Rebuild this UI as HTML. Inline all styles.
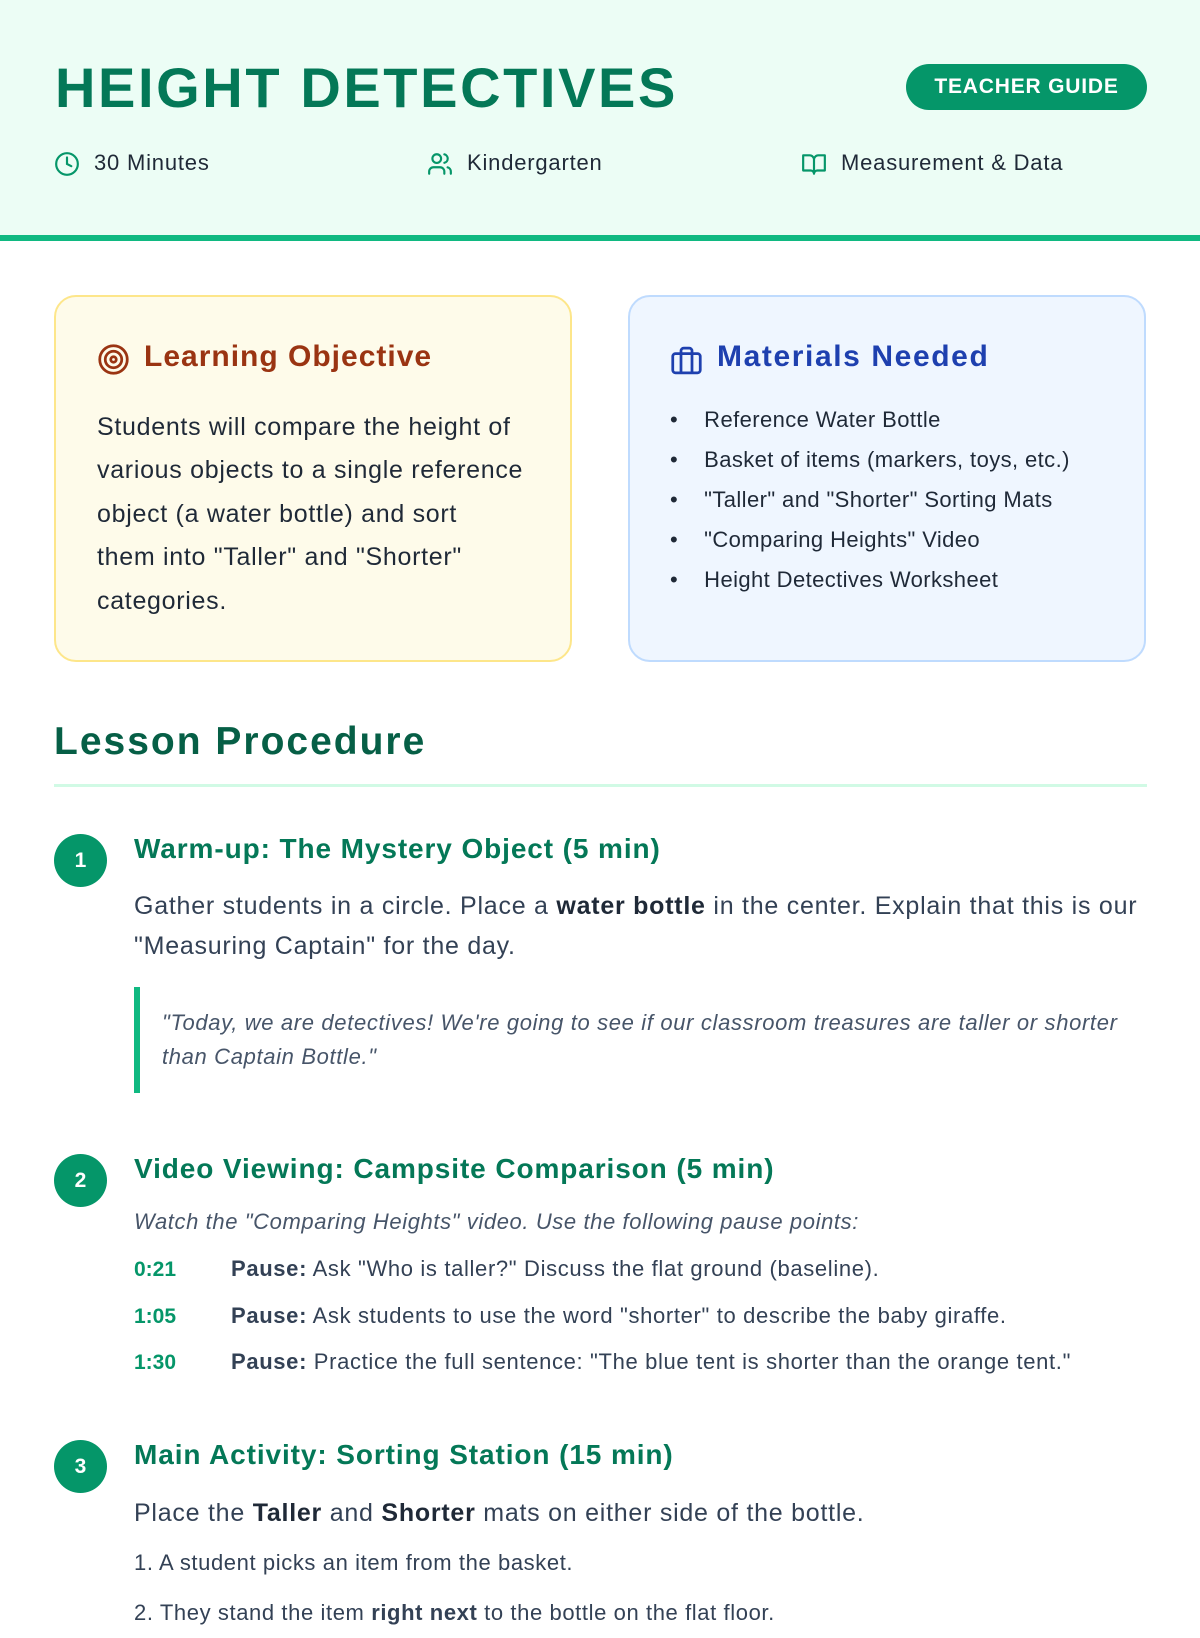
<!DOCTYPE html>
<html><head><meta charset="utf-8"><style>
*{margin:0;padding:0;box-sizing:border-box}
body{width:1200px;height:1600px;overflow:hidden;background:#fff;font-family:"Liberation Sans",sans-serif;color:#334155;position:relative}
.a{position:absolute;white-space:nowrap}
.hdr{position:absolute;left:0;top:0;width:1200px;height:241px;background:#ecfdf5;border-bottom:6px solid #10b981}
.card{position:absolute;top:295px;height:367px;width:518px;border-radius:22px;border:2px solid}
.num{position:absolute;left:54px;width:53px;height:53px;border-radius:50%;background:#059669;color:#fff;font-weight:bold;font-size:21px;text-align:center;line-height:53px}
.st{position:absolute;left:134px;font-size:28px;font-weight:bold;letter-spacing:0.9px;color:#047857;white-space:nowrap}
.tx{position:absolute;left:134px;font-size:25px;letter-spacing:0.75px;line-height:40px;color:#334155}
.tm{position:absolute;left:134px;font-size:21px;font-weight:bold;color:#059669}
.pr{position:absolute;left:231px;font-size:22px;letter-spacing:0.65px;white-space:nowrap}
</style></head><body>
<div class="hdr"></div>
<div class="a" style="left:55px;top:55px;font-size:56px;font-weight:bold;color:#047857;letter-spacing:2.6px">HEIGHT DETECTIVES</div>
<div class="a" style="left:906px;top:64px;width:241px;height:46px;border-radius:23px;background:#059669;color:#fff;font-weight:bold;font-size:21px;letter-spacing:0.8px;text-align:center;line-height:46px">TEACHER GUIDE</div>
<svg class="a" style="left:54px;top:151px" width="26" height="26" viewBox="0 0 24 24" fill="none" stroke="#059669" stroke-width="2" stroke-linecap="round"><circle cx="12" cy="12" r="10"/><path d="M12 6v6l4 2"/></svg>
<div class="a" style="left:94px;top:150px;font-size:22px;letter-spacing:0.8px;color:#1f2937">30 Minutes</div>
<svg class="a" style="left:427px;top:151px" width="26" height="26" viewBox="0 0 24 24" fill="none" stroke="#059669" stroke-width="2" stroke-linecap="round"><circle cx="9" cy="7" r="4"/><path d="M2 21v-2a4 4 0 0 1 4-4h6a4 4 0 0 1 4 4v2M16 3.1a4 4 0 0 1 0 7.8M22 21v-2a4 4 0 0 0-3-3.9"/></svg>
<div class="a" style="left:467px;top:150px;font-size:22px;letter-spacing:0.8px;color:#1f2937">Kindergarten</div>
<svg class="a" style="left:801px;top:151px" width="26" height="26" viewBox="0 0 24 24" fill="none" stroke="#059669" stroke-width="2" stroke-linejoin="round"><path d="M2 4h6a4 4 0 0 1 4 4v13a3 3 0 0 0-3-3H2zM22 4h-6a4 4 0 0 0-4 4v13a3 3 0 0 1 3-3h7z"/></svg>
<div class="a" style="left:841px;top:150px;font-size:22px;letter-spacing:0.8px;color:#1f2937">Measurement &amp; Data</div>

<div class="card" style="left:54px;background:#fefbea;border-color:#fde68a"></div>
<svg class="a" style="left:97px;top:343px" width="33" height="33" viewBox="0 0 24 24" fill="none" stroke="#9a3412" stroke-width="2"><circle cx="12" cy="12" r="10"/><circle cx="12" cy="12" r="6"/><circle cx="12" cy="12" r="2"/></svg>
<div class="a" style="left:144px;top:340px;font-size:30px;font-weight:bold;letter-spacing:1px;color:#9a3412">Learning Objective</div>
<div class="a" style="left:97px;top:406px;font-size:25px;letter-spacing:0.7px;line-height:43.4px;color:#1f2937">Students will compare the height of<br>various objects to a single reference<br>object (a water bottle) and sort<br>them into "Taller" and "Shorter"<br>categories.</div>

<div class="card" style="left:628px;background:#eff6ff;border-color:#bfdbfe"></div>
<svg class="a" style="left:670px;top:344px" width="33" height="33" viewBox="0 0 24 24" fill="none" stroke="#1e40af" stroke-width="2" stroke-linejoin="round"><rect x="2" y="7" width="20" height="14" rx="2"/><path d="M16 21V5a2 2 0 0 0-2-2h-4a2 2 0 0 0-2 2v16"/></svg>
<div class="a" style="left:717px;top:340px;font-size:30px;font-weight:bold;letter-spacing:1.6px;color:#1e40af">Materials Needed</div>
<div class="a" style="left:670px;top:400px;font-size:22px;letter-spacing:0.4px;line-height:40px;color:#1f2937">
<div>•&nbsp;&nbsp;&nbsp;&nbsp;Reference Water Bottle</div>
<div>•&nbsp;&nbsp;&nbsp;&nbsp;Basket of items (markers, toys, etc.)</div>
<div>•&nbsp;&nbsp;&nbsp;&nbsp;"Taller" and "Shorter" Sorting Mats</div>
<div>•&nbsp;&nbsp;&nbsp;&nbsp;"Comparing Heights" Video</div>
<div>•&nbsp;&nbsp;&nbsp;&nbsp;Height Detectives Worksheet</div>
</div>

<div class="a" style="left:54px;top:720px;font-size:39px;font-weight:bold;letter-spacing:2px;color:#065f46">Lesson Procedure</div>
<div class="a" style="left:54px;top:784px;width:1093px;height:3px;background:#d1fae5"></div>

<div class="num" style="top:834px">1</div>
<div class="st" style="top:833px">Warm-up: The Mystery Object (5 min)</div>
<div class="tx" style="top:886px;white-space:nowrap">Gather students in a circle. Place a <b style="color:#1f2937">water bottle</b> in the center. Explain that this is our<br>"Measuring Captain" for the day.</div>
<div class="a" style="left:134px;top:987px;width:6px;height:106px;background:#10b981"></div>
<div class="a" style="left:162px;top:1006px;font-size:22px;letter-spacing:0.65px;line-height:34px;font-style:italic;color:#475569">"Today, we are detectives! We're going to see if our classroom treasures are taller or shorter<br>than Captain Bottle."</div>

<div class="num" style="top:1154px">2</div>
<div class="st" style="top:1153px">Video Viewing: Campsite Comparison (5 min)</div>
<div class="a" style="left:134px;top:1209px;font-size:22px;letter-spacing:0.6px;font-style:italic;color:#475569">Watch the "Comparing Heights" video. Use the following pause points:</div>
<div class="tm" style="top:1258px">0:21</div><div class="pr" style="top:1256px"><b>Pause:</b> Ask "Who is taller?" Discuss the flat ground (baseline).</div>
<div class="tm" style="top:1305px">1:05</div><div class="pr" style="top:1303px"><b>Pause:</b> Ask students to use the word "shorter" to describe the baby giraffe.</div>
<div class="tm" style="top:1351px">1:30</div><div class="pr" style="top:1349px"><b>Pause:</b> Practice the full sentence: "The blue tent is shorter than the orange tent."</div>

<div class="num" style="top:1440px">3</div>
<div class="st" style="top:1439px">Main Activity: Sorting Station (15 min)</div>
<div class="tx" style="top:1493px;white-space:nowrap">Place the <b style="color:#1f2937">Taller</b> and <b style="color:#1f2937">Shorter</b> mats on either side of the bottle.</div>
<div class="a" style="left:134px;top:1538px;font-size:22px;letter-spacing:0.6px;line-height:50px;color:#334155">1. A student picks an item from the basket.<br>2. They stand the item <b>right next</b> to the bottle on the flat floor.</div>
</body></html>
